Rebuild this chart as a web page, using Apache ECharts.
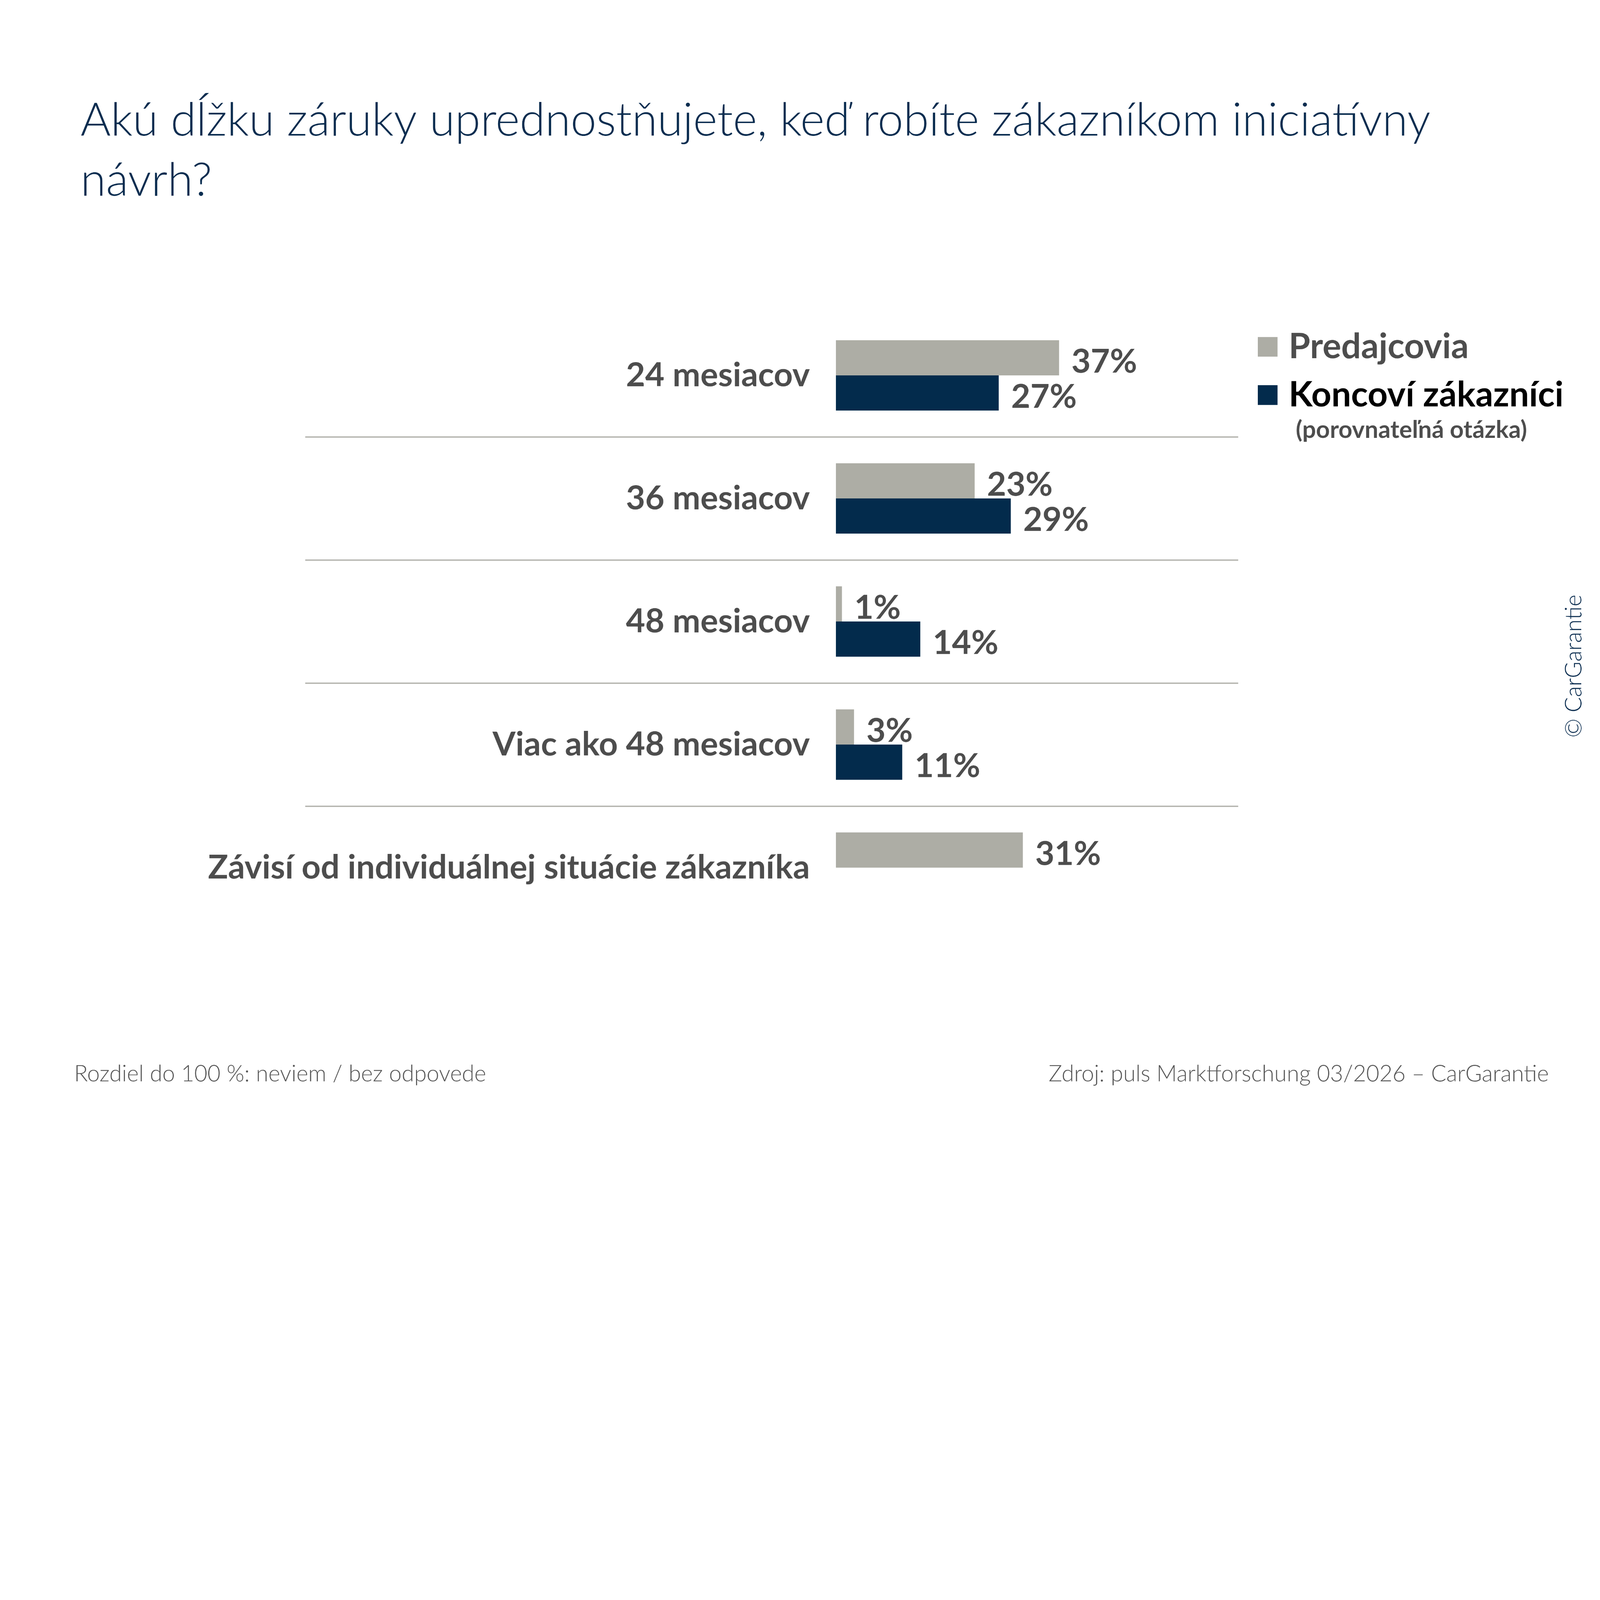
<!DOCTYPE html>
<html>
<head>
<meta charset="utf-8">
<script src="https://cdn.jsdelivr.net/npm/echarts@6/dist/echarts.min.js"></script>
<style>
  html, body { margin: 0; padding: 0; background: #fff; overflow: hidden; }
  #chart { width: 6500px; height: 4500px; transform-origin: 0 0; }
</style>
</head>
<body>
<div id="chart"></div>
<script>
const categories = [
  "24 mesiacov",
  "36 mesiacov",
  "48 mesiacov",
  "Viac ako 48 mesiacov",
  "Závisí od individuálnej situácie zákazníka",
]
const dealers = [37, 23, 1, 3, 31]
const customers = [27, 29, 14, 11, null]
const seriesNames = ["Predajcovia", "Koncoví zákazníci"]

const GRAY = "#adada5"
const NAVY = "#032b4c"
const TEXT = "#4d4d4d"
const FONT = "Lato, 'Open Sans', sans-serif"

// the layout is drawn at 6500x4500; shrink it if the window is smaller
const fitPage = () => {
  const s = Math.min(window.innerWidth / 6500, window.innerHeight / 4500, 1)
  document.getElementById("chart").style.transform = `scale(${s})`
}
fitPage()

const barLabel = {
  show: true,
  position: "right",
  distance: 50,
  offset: [0, 17],
  formatter: "{c}%",
  fontFamily: FONT,
  fontSize: 135,
  fontWeight: "bold",
  color: TEXT,
}

const chart = echarts.init(document.getElementById("chart"))

chart.setOption({
  backgroundColor: "#fff",
  animation: false,
  title: {
    text: "Akú dĺžku záruky uprednostňujete, keď robíte zákazníkom iniciatívny\nnávrh?",
    left: 327,
    top: 368,
    padding: 0,
    textStyle: {
      fontFamily: FONT,
      fontSize: 188,
      fontWeight: 300,
      lineHeight: 244,
      color: "#0b2d50",
    },
  },
  legend: {
    orient: "vertical",
    left: 5110,
    top: 1338,
    padding: 0,
    itemWidth: 80,
    itemHeight: 80,
    itemGap: 54,
    icon: "rect",
    selectedMode: false,
    textStyle: {
      fontFamily: FONT,
      fontSize: 142,
      fontWeight: "bold",
      padding: [0, 0, 0, 40],
    },
    data: [
      { name: seriesNames[0], textStyle: { color: TEXT } },
      { name: seriesNames[1], textStyle: { color: "#000" } },
    ],
  },
  grid: {
    left: 1240,
    right: 1470,
    top: 1275,
    height: 2500,
    containLabel: false,
    outerBoundsMode: "none",
  },
  xAxis: {
    type: "value",
    min: -88,
    max: 66.7,
    show: false,
  },
  yAxis: {
    type: "category",
    data: categories,
    inverse: true,
    axisLine: { show: false, onZero: false },
    axisTick: { show: false },
    axisLabel: {
      // labels end just left of the zero line of the value axis
      margin: -2050,
      fontFamily: FONT,
      fontSize: 135,
      fontWeight: "bold",
      color: TEXT,
    },
    splitLine: {
      show: true,
      showMinLine: false,
      showMaxLine: false,
      lineStyle: { color: "#b0b0aa", width: 5 },
    },
  },
  series: [
    {
      name: seriesNames[0],
      type: "bar",
      data: dealers,
      barWidth: 143,
      barGap: "0%",
      itemStyle: { color: GRAY },
      label: barLabel,
    },
    {
      name: seriesNames[1],
      type: "bar",
      data: customers,
      barWidth: 143,
      barGap: "0%",
      itemStyle: { color: NAVY },
      label: barLabel,
    },
  ],
  graphic: [
    {
      type: "text",
      left: 5264,
      top: 1698,
      style: {
        text: "(porovnateľná otázka)",
        fontFamily: FONT,
        fontSize: 98,
        fontWeight: "bold",
        fill: TEXT,
      },
    },
    {
      type: "text",
      x: 6394,
      y: 2706,
      rotation: Math.PI / 2,
      style: {
        text: "© CarGarantie",
        fontFamily: FONT,
        fontSize: 92,
        fontWeight: 300,
        fill: "#0b2d50",
        align: "center",
        verticalAlign: "middle",
      },
    },
    {
      type: "text",
      x: 301,
      y: 4363,
      style: {
        text: "Rozdiel do 100 %: neviem / bez odpovede",
        fontFamily: FONT,
        fontSize: 92,
        fontWeight: 300,
        fill: "#555",
        align: "left",
        verticalAlign: "middle",
      },
    },
    {
      type: "text",
      x: 6292,
      y: 4363,
      style: {
        text: "Zdroj: puls Marktforschung 03/2026 – CarGarantie",
        fontFamily: FONT,
        fontSize: 92,
        fontWeight: 300,
        fill: "#555",
        align: "right",
        verticalAlign: "middle",
      },
    },
  ],
})

window.addEventListener("resize", () => {
  fitPage()
  chart.resize()
})
</script>
</body>
</html>
